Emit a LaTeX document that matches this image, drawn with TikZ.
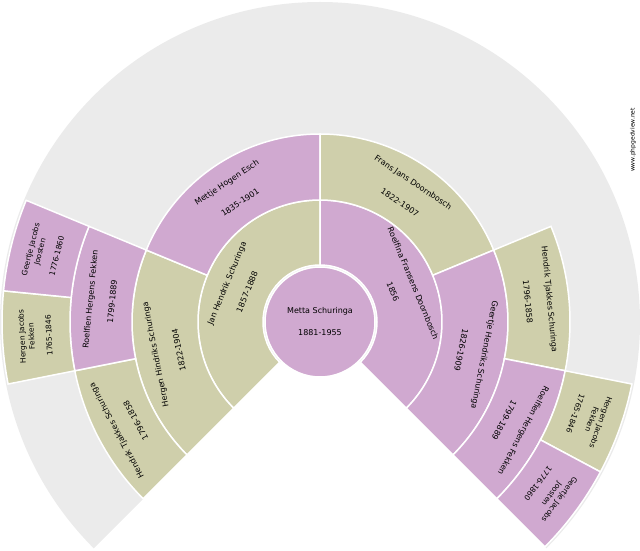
\documentclass[tikz,border=0pt]{standalone}
\usepackage{fontspec}
\setmainfont{DejaVu Sans}
\definecolor{male}{HTML}{CFCFAB}
\definecolor{female}{HTML}{D0A9D0}
\definecolor{bg}{HTML}{EBEBEB}
\newcommand{\fansector}[6]{%
  \fill[#1, draw=white, line width=1.5pt] (#2:#4pt) arc (#2:#3:#4pt) -- (#3:#5pt) arc (#3:#2:#5pt) -- cycle;}
\tikzset{lbl/.style={font=\fontsize{8}{10}\selectfont, align=center, inner sep=0pt},
  lbls/.style={font=\fontsize{7.5}{9.5}\selectfont, align=center, inner sep=0pt}}
\begin{document}
\begin{tikzpicture}
\useasboundingbox (0,0) rectangle (640pt,550pt);
\begin{scope}[shift={(320pt,228pt)}]
\fill[bg] (0,0) -- (225:320pt) arc (225:-45:320pt) -- cycle;
% ring 1
\fansector{male}{225}{90}{57}{122}{}
\fansector{female}{90}{-45}{57}{122}{}
% ring 2
\fansector{male}{225}{157.5}{122}{188}{}
\fansector{female}{157.5}{90}{122}{188}{}
\fansector{male}{90}{22.5}{122}{188}{}
\fansector{female}{22.5}{-45}{122}{188}{}
% ring 3
\fansector{male}{225}{191.25}{188}{250}{}
\fansector{female}{191.25}{157.5}{188}{250}{}
\fansector{male}{22.5}{-11.25}{188}{250}{}
\fansector{female}{-11.25}{-45}{188}{250}{}
% ring 4
\fansector{male}{191.25}{174.375}{250}{318}{}
\fansector{female}{174.375}{157.5}{250}{318}{}
\fansector{male}{-11.25}{-28.125}{250}{318}{}
\fansector{female}{-28.125}{-45}{250}{318}{}
% center
\fill[female, draw=white, line width=1.5pt] (0,0) circle (55pt);
\node[lbl] (root) at (0,0) {Metta Schuringa\\[12pt]1881-1955};
% ring 1 labels
\node[lbl, rotate=67.5] (f) at (157.5:90pt) {Jan Hendrik Schuringa\\[12pt]1857-1888};
\node[lbl, rotate=-67.5] (m) at (22.5:90pt) {Roelfina Fransens Doornbosch\\[12pt]1856};
% ring 2
\node[lbl, rotate=101.25] (ff) at (191.25:156pt) {Hergen Hindriks Schuringa\\[14pt]1822-1904};
\node[lbl, rotate=33.75] (fm) at (123.75:156pt) {Mettje Hogen Esch\\[14pt]1835-1901};
\node[lbl, rotate=-33.75] (mf) at (56.25:156pt) {Frans Jans Doornbosch\\[14pt]1822-1907};
\node[lbl, rotate=-101.25] (mm) at (-11.25:156pt) {Geertje Hendriks Schuringa\\[14pt]1826-1909};
% ring 3
\node[lbl, rotate=118.125] (fff) at (208.125:220pt) {Hendrik Tjakkes Schuringa\\[12pt]1796-1858};
\node[lbl, rotate=84.375] (ffm) at (174.375:220pt) {Roelfien Hergens Fekken\\[12pt]1799-1889};
\node[lbl, rotate=-84.375] (mmf) at (5.625:220pt) {Hendrik Tjakkes Schuringa\\[12pt]1796-1858};
\node[lbl, rotate=-118.125] (mmm) at (-28.125:220pt) {Roelfien Hergens Fekken\\[12pt]1799-1889};
% ring 4
\node[lbls, rotate=92.81] (ffmf) at (182.81:285pt) {Hergen Jacobs\\Fekken\\[8pt]1765-1846};
\node[lbls, rotate=75.94] (ffmm) at (165.94:285pt) {Geertje Jacobs\\Joosten\\[8pt]1776-1860};
\node[lbls, rotate=-109.69] (mmmf) at (-19.69:285pt) {Hergen Jacobs\\Fekken\\[8pt]1765-1846};
\node[lbls, rotate=-126.56] (mmmm) at (-36.56:285pt) {Geertje Jacobs\\Joosten\\[8pt]1776-1860};
\end{scope}
\node[font=\fontsize{6}{7}\selectfont, rotate=90, inner sep=0pt] (wm) at (633pt,410pt) {www.phpgedview.net};
\end{tikzpicture}
\end{document}
